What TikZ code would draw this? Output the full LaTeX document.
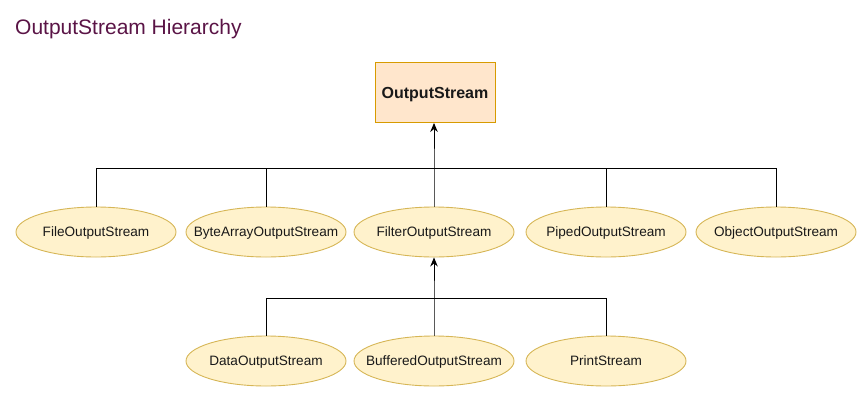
\documentclass[tikz,border=0pt]{standalone}
\usepackage{fontspec}
\setmainfont{Liberation Sans}
\usetikzlibrary{arrows.meta,shapes.geometric}
\definecolor{titlecol}{RGB}{90,20,70}
\definecolor{boxfill}{RGB}{255,230,204}
\definecolor{boxdraw}{RGB}{215,155,0}
\definecolor{ellfill}{RGB}{255,242,204}
\definecolor{elldraw}{RGB}{214,182,86}
\definecolor{txt}{RGB}{25,25,25}
\newcommand{\zw}[1]{\makebox[0pt]{#1}}
\tikzset{
  rootbox/.style={draw=boxdraw,fill=boxfill,line width=0.9pt,minimum width=120pt,minimum height=60pt,inner sep=0pt,text height=11.5pt,text depth=0pt,text=txt,font=\fontsize{16}{19}\selectfont\bfseries},
  cls/.style={ellipse,draw=elldraw,fill=ellfill,line width=0.9pt,minimum width=160pt,minimum height=50pt,inner sep=0pt,text height=9.8pt,text depth=0pt,text=txt,font=\fontsize{13.6}{16}\selectfont},
  conn/.style={line width=0.9pt,black},
  arr/.style={conn,-{Stealth[length=9pt,width=7.5pt]}}
}
\begin{document}
\begin{tikzpicture}[x=1pt,y=-1pt]
\useasboundingbox (0,0) rectangle (866,402);
\node[anchor=base west,text=titlecol,font=\fontsize{21}{25}\selectfont,inner sep=0pt] (title) at (15,34) {OutputStream Hierarchy};
\node[rootbox] (os) at (435,92.5) {OutputStream};
\node[cls] (fos) at (96,232) {\zw{FileOutputStream}};
\node[cls] (baos) at (266,232) {\zw{ByteArrayOutputStream}};
\node[cls] (filt) at (434,232) {\zw{FilterOutputStream}};
\node[cls] (pos) at (606,232) {\zw{PipedOutputStream}};
\node[cls] (oos) at (776,232) {\zw{ObjectOutputStream}};
\node[cls] (dos) at (266,361) {\zw{DataOutputStream}};
\node[cls] (bos) at (434,361) {\zw{BufferedOutputStream}};
\node[cls] (ps) at (606,361) {\zw{PrintStream}};
\coordinate (j1) at (434,168);
\coordinate (j2) at (434,298);
\draw[arr] (filt.north) -- (j1) -- ([xshift=-1pt]os.south);
\draw[conn] (fos.north) |- (j1);
\draw[conn] (baos.north) |- (j1);
\draw[conn] (pos.north) |- (j1);
\draw[conn] (oos.north) |- (j1);
\draw[arr] (bos.north) -- (j2) -- (filt.south);
\draw[conn] (dos.north) |- (j2);
\draw[conn] (ps.north) |- (j2);
\end{tikzpicture}
\end{document}
